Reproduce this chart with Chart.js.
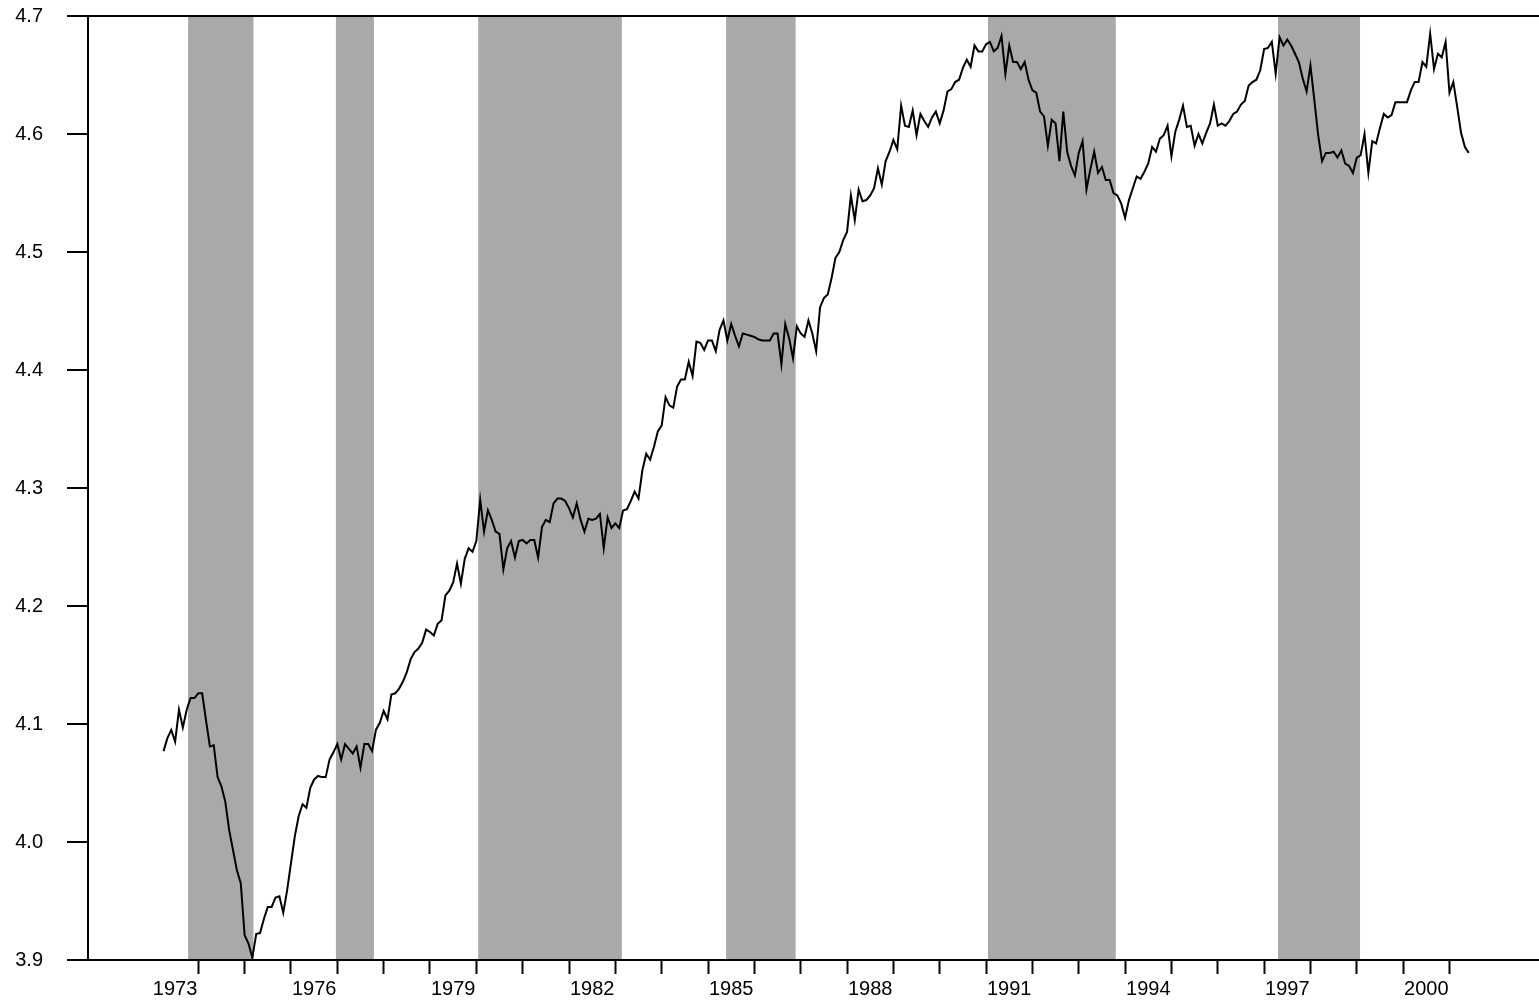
<!DOCTYPE html>
<html>
<head>
<meta charset="utf-8">
<script src="https://cdn.jsdelivr.net/npm/chart.js@4"></script>
<style>
  html, body { margin: 0; padding: 0; background: #ffffff; }
  #wrap { width: 1539px; height: 1003px; }
</style>
</head>
<body>
<div id="wrap"><canvas id="ipChart" width="1539" height="1003"></canvas></div>
<script>
// monthly series, first value is April 1973
const startYear = 1973;
const startMonth = 4;
const values = [
  4.077, 4.088, 4.095, 4.085, 4.112, 4.097, 4.112, 4.122, 4.122, 4.126,
  4.126, 4.103, 4.081, 4.082, 4.055, 4.047, 4.034, 4.010, 3.993, 3.976,
  3.965, 3.921, 3.914, 3.902, 3.922, 3.923, 3.935, 3.945, 3.945, 3.953,
  3.954, 3.940, 3.959, 3.982, 4.005, 4.022, 4.032, 4.029, 4.046, 4.053,
  4.056, 4.055, 4.055, 4.070, 4.076, 4.083, 4.070, 4.083, 4.079, 4.075,
  4.081, 4.063, 4.083, 4.083, 4.077, 4.095, 4.101, 4.111, 4.104, 4.125,
  4.126, 4.130, 4.136, 4.144, 4.155, 4.161, 4.164, 4.169, 4.180, 4.178,
  4.175, 4.185, 4.188, 4.209, 4.213, 4.220, 4.236, 4.219, 4.240, 4.249,
  4.246, 4.255, 4.290, 4.263, 4.281, 4.273, 4.263, 4.261, 4.231, 4.249,
  4.255, 4.241, 4.255, 4.256, 4.253, 4.256, 4.256, 4.241, 4.267, 4.273,
  4.271, 4.287, 4.291, 4.291, 4.289, 4.283, 4.275, 4.287, 4.273, 4.263,
  4.274, 4.273, 4.274, 4.278, 4.249, 4.275, 4.266, 4.270, 4.266, 4.281,
  4.282, 4.289, 4.297, 4.291, 4.315, 4.329, 4.324, 4.335, 4.348, 4.353,
  4.377, 4.370, 4.368, 4.386, 4.392, 4.392, 4.407, 4.395, 4.424, 4.423,
  4.417, 4.425, 4.425, 4.416, 4.434, 4.442, 4.425, 4.439, 4.429, 4.420,
  4.431, 4.430, 4.429, 4.428, 4.426, 4.425, 4.425, 4.425, 4.431, 4.431,
  4.405, 4.439, 4.427, 4.410, 4.437, 4.431, 4.428, 4.442, 4.431, 4.416,
  4.453, 4.461, 4.464, 4.478, 4.495, 4.500, 4.510, 4.517, 4.548, 4.527,
  4.553, 4.543, 4.544, 4.548, 4.554, 4.571, 4.557, 4.577, 4.585, 4.595,
  4.587, 4.624, 4.607, 4.606, 4.620, 4.599, 4.617, 4.611, 4.606, 4.614,
  4.619, 4.609, 4.620, 4.636, 4.638, 4.644, 4.646, 4.656, 4.663, 4.657,
  4.675, 4.670, 4.670, 4.676, 4.678, 4.670, 4.673, 4.683, 4.651, 4.675,
  4.661, 4.661, 4.655, 4.661, 4.646, 4.637, 4.635, 4.619, 4.615, 4.590,
  4.612, 4.609, 4.577, 4.619, 4.585, 4.573, 4.565, 4.584, 4.594, 4.553,
  4.570, 4.585, 4.567, 4.572, 4.561, 4.561, 4.550, 4.548, 4.541, 4.529,
  4.544, 4.554, 4.564, 4.562, 4.568, 4.575, 4.589, 4.585, 4.596, 4.599,
  4.607, 4.581, 4.602, 4.612, 4.624, 4.606, 4.607, 4.590, 4.600, 4.592,
  4.601, 4.609, 4.625, 4.607, 4.609, 4.607, 4.611, 4.617, 4.619, 4.625,
  4.628, 4.641, 4.644, 4.646, 4.654, 4.672, 4.673, 4.678, 4.651, 4.682,
  4.675, 4.680, 4.675, 4.668, 4.661, 4.647, 4.636, 4.658, 4.629, 4.599,
  4.577, 4.584, 4.584, 4.585, 4.580, 4.586, 4.575, 4.573, 4.567, 4.580,
  4.582, 4.600, 4.567, 4.594, 4.592, 4.605, 4.617, 4.614, 4.616, 4.627,
  4.627, 4.627, 4.627, 4.637, 4.644, 4.644, 4.661, 4.657, 4.685, 4.655,
  4.668, 4.665, 4.678, 4.635, 4.644, 4.623, 4.601, 4.589, 4.584
];

// shaded recession periods (decimal years)
const recessionStart = [1973.78, 1976.97, 1980.04, 1985.39, 1991.04, 1997.30];
const recessionEnd   = [1975.19, 1977.79, 1983.14, 1986.89, 1993.80, 1999.07];

// axis ticks
const labelYears = [1973, 1976, 1979, 1982, 1985, 1988, 1991, 1994, 1997, 2000];
const tickYears = [];
for (let y = 1974; y <= 2001; y++) tickYears.push(y);
const yTicks = [3.9, 4.0, 4.1, 4.2, 4.3, 4.4, 4.5, 4.6, 4.7];

const points = values.map((v, i) => ({
  x: startYear + (startMonth - 1 + i) / 12,
  y: v
}));

const shading = {
  id: 'shading',
  beforeDraw(chart) {
    const { ctx, chartArea, scales } = chart;
    ctx.save();
    ctx.fillStyle = '#ffffff';
    ctx.fillRect(0, 0, chart.width, chart.height);
    ctx.fillStyle = '#a9a9a9';
    recessionStart.forEach((s, i) => {
      const x1 = scales.x.getPixelForValue(s);
      const x2 = scales.x.getPixelForValue(recessionEnd[i]);
      ctx.fillRect(x1, chartArea.top, x2 - x1, chartArea.bottom - chartArea.top);
    });
    ctx.restore();
  }
};

const font = { family: '"Liberation Sans", Arial, sans-serif', size: 20 };

new Chart(document.getElementById('ipChart').getContext('2d'), {
  type: 'line',
  data: {
    datasets: [{
      data: points,
      borderColor: '#000000',
      borderWidth: 2,
      pointRadius: 0,
      tension: 0,
      fill: false
    }]
  },
  options: {
    responsive: false,
    animation: false,
    devicePixelRatio: 1,
    layout: { padding: { top: 16, right: 0, bottom: 0, left: 0 } },
    plugins: {
      legend: { display: false },
      tooltip: { enabled: false }
    },
    scales: {
      x: {
        type: 'linear',
        min: 1971.62,
        max: 2002.932,
        afterFit: (scale) => {
          scale.height = 43;
          scale.paddingLeft = 0;
          scale.paddingRight = 0;
        },
        afterBuildTicks: (scale) => {
          const t = tickYears.map(v => ({ value: v }))
            .concat(labelYears.map(v => ({ value: v + 0.5 })));
          t.sort((a, b) => a.value - b.value);
          scale.ticks = t;
        },
        ticks: {
          autoSkip: false,
          maxRotation: 0,
          padding: 3,
          color: '#000000',
          font: font,
          callback: (v) => Number.isInteger(v) ? '' : String(v - 0.5)
        },
        grid: {
          drawOnChartArea: false,
          drawTicks: true,
          tickLength: 14,
          tickWidth: 2,
          tickColor: (ctx) => (ctx.tick && Number.isInteger(ctx.tick.value)) ? '#000000' : 'rgba(0,0,0,0)'
        },
        border: { display: true, color: '#000000', width: 2 }
      },
      y: {
        min: 3.9,
        max: 4.7,
        afterFit: (scale) => {
          scale.width = 88;
          scale.paddingTop = 0;
          scale.paddingBottom = 0;
        },
        afterBuildTicks: (scale) => { scale.ticks = yTicks.map(v => ({ value: v })); },
        ticks: {
          padding: 24,
          color: '#000000',
          font: font,
          callback: (v) => v.toFixed(1)
        },
        grid: {
          drawOnChartArea: true,
          drawTicks: true,
          tickLength: 21,
          tickWidth: 2,
          tickColor: '#000000',
          lineWidth: 2,
          color: (ctx) => (ctx.tick && Math.abs(ctx.tick.value - 4.7) < 1e-9) ? '#000000' : 'rgba(0,0,0,0)'
        },
        border: { display: true, color: '#000000', width: 2 }
      }
    }
  },
  plugins: [shading]
});
</script>
</body>
</html>
